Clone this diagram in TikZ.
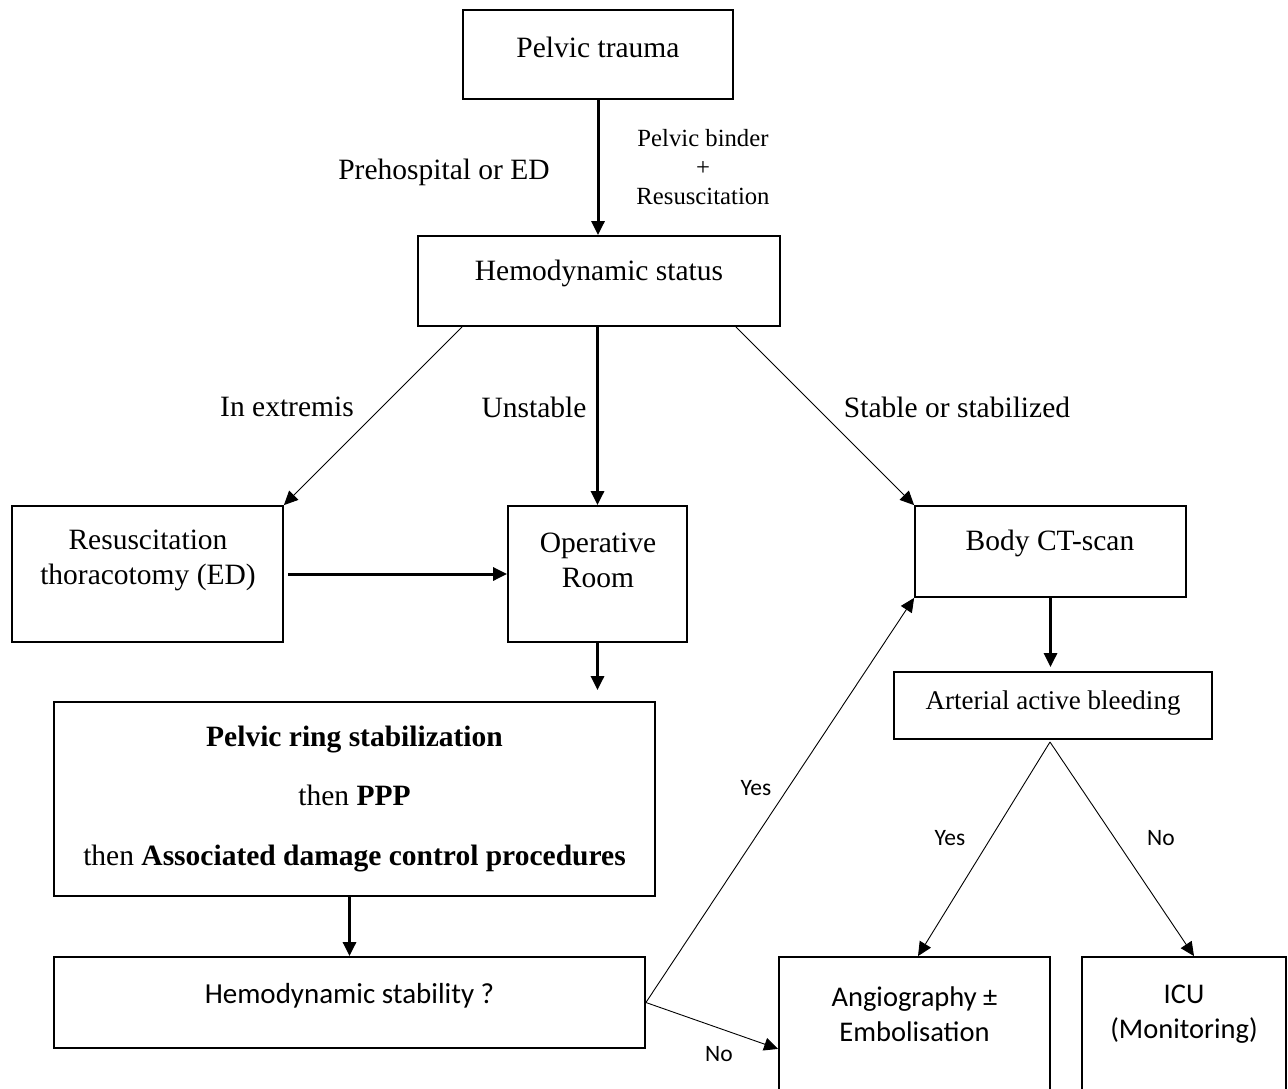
\documentclass[tikz,border=0pt]{standalone}
\usepackage{fontspec}
\setmainfont{Liberation Serif}
\newfontfamily\calfont{Carlito}
\usetikzlibrary{arrows.meta,calc}
\begin{document}
\begin{tikzpicture}[x=1pt,y=-1pt,
  box/.style={draw,line width=1.8pt,minimum width=#1,inner sep=0pt},
  txt/.style={inner sep=0pt,align=center,font=\fontsize{29.5}{35}\selectfont},
  lbl/.style={inner sep=0pt,align=center,font=\fontsize{29.5}{35}\selectfont},
  sans/.style={inner sep=0pt,align=center,font=\calfont\fontsize{29}{35}\selectfont},
  yn/.style={inner sep=0pt,font=\calfont\fontsize{23.5}{28}\selectfont},
  thickarr/.style={line width=3pt,-{Triangle[length=14pt,width=13pt]}},
  thinarr/.style={line width=0.9pt,-{Triangle[length=14pt,width=13pt]}}]
\clip (0,0) rectangle (1288,1089);
\fill[white] (0,0) rectangle (1288,1089);
% boxes
\node[box=270pt,minimum height=89pt] (trauma) at (598,54.5) {};
\node[box=362pt,minimum height=90pt] (status) at (599,281) {};
\node[box=271pt,minimum height=136pt] (resus) at (147.5,574) {};
\node[box=179pt,minimum height=136pt] (op) at (597.5,574) {};
\node[box=271pt,minimum height=91pt] (ct) at (1050.5,551.5) {};
\node[box=601pt,minimum height=194pt] (pelvic) at (354.5,799) {};
\node[box=591pt,minimum height=91pt] (stab) at (349.5,1002.5) {};
\node[box=318pt,minimum height=67pt] (art) at (1053,705.5) {};
\node[box=271pt,minimum height=180pt] (angio) at (914.5,1047) {};
\node[box=204pt,minimum height=180pt] (icu) at (1184,1047) {};
% box texts
\node[txt] (t-trauma) at (598,47) {Pelvic trauma};
\node[txt] (t-status) at (599,273) {Hemodynamic status};
\node[txt] (t-resus) at (148,560.5) {Resuscitation\\thoracotomy (ED)};
\node[txt] (t-op) at (598,560.5) {Operative\\Room};
\node[txt] (t-ct) at (1050,543) {Body CT-scan};
\node[txt,font=\fontsize{29.5}{59.5}\selectfont] (t-pelvic) at (354.5,799) {\textbf{Pelvic ring stabilization}\\then \textbf{PPP}\\then \textbf{Associated damage control procedures}};
\node[sans] (t-stab) at (349.5,996) {Hemodynamic stability ?};
\node[txt,font=\fontsize{27}{32}\selectfont] (t-art) at (1053,703) {Arterial active bleeding};
\node[sans,font=\calfont\fontsize{28.5}{35}\selectfont] (t-angio) at (914.5,1014.5) {Angiography ±\\Embolisation};
\node[sans,font=\calfont\fontsize{28.5}{35}\selectfont] (t-icu) at (1184,1014.5) {ICU\\(Monitoring)};
% labels
\node[lbl] (l-pre) at (444,172) {Prehospital or ED};
\node[lbl,font=\fontsize{24.7}{29}\selectfont] (l-binder) at (703,167) {Pelvic binder\\+\\Resuscitation};
\node[lbl] (l-ext) at (287,407) {In extremis};
\node[lbl] (l-unst) at (534,407) {Unstable};
\node[lbl] (l-stable) at (957,407) {Stable or stabilized};
\node[yn] (l-yes1) at (756,788) {Yes};
\node[yn] (l-no1) at (719,1054) {No};
\node[yn] (l-yes2) at (950,838) {Yes};
\node[yn] (l-no2) at (1161,838) {No};
% connectors
\coordinate (apex) at (1050,742);
\draw[thickarr] (trauma.south) -- (trauma.south |- status.north);
\draw[thinarr] ([xshift=45pt]status.south west) -- (resus.north east);
\draw[thickarr] (op.north |- status.south) -- (op.north);
\draw[thinarr] ([xshift=-45pt]status.south east) -- (ct.north west);
\draw[thickarr] ([xshift=4pt]resus.east) -- (op.west);
\draw[thickarr,shorten >=11pt] (op.south) -- (op.south |- pelvic.north);
\draw[thickarr] (stab.north |- pelvic.south) -- (stab.north);
\draw[thickarr,shorten >=4pt] (ct.south) -- (ct.south |- art.north);
\draw[thinarr] (apex) -- ([xshift=3.5pt]angio.north);
\draw[thinarr] (apex) -- ([xshift=10pt]icu.north);
\draw[thinarr] (stab.east) -- (ct.south west);
\draw[thinarr] (stab.east) -- (angio.north west |- stab.south);
\end{tikzpicture}
\end{document}
